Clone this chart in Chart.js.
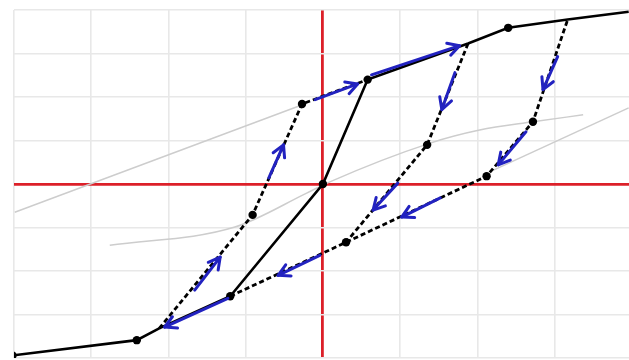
<!DOCTYPE html>
<html>
<head>
<meta charset="utf-8">
<script src="https://cdn.jsdelivr.net/npm/chart.js@4/dist/chart.umd.min.js"></script>
<style>
  html, body { margin: 0; padding: 0; background: #ffffff; overflow: hidden; }
  canvas { display: block; }
</style>
</head>
<body>
<canvas id="chart" width="629" height="360"></canvas>
<script>
// Grid positions (one unit per cell)
const xTicks = [-4, -3, -2, -1, 0, 1, 2, 3];
const yTicks = [-4, -3, -2, -1, 0, 1, 2, 3, 4];

// Skeleton (envelope) curve, solid
const skeletonX = [-4.02, -2.41, -2.12, -1.20, 0, 0.58, 1.88, 2.40, 3.17, 3.96];
const skeletonY = [-3.94, -3.59, -3.32, -2.58, 0, 2.40, 3.23, 3.59, 3.78, 3.96];

// Unloading / reloading branches, dashed
const branchAX = [-1.20, 0.30, 2.12, 2.72, 3.17];
const branchAY = [-2.58, -1.34, 0.18, 1.43, 3.78];
const branchBX = [1.88, 1.35, 0.30];
const branchBY = [3.23, 0.90, -1.34];
const branchCX = [-2.12, -0.91, -0.27, 0.58];
const branchCY = [-3.32, -0.71, 1.84, 2.40];

// Marked nodes
const nodeX = [-4.02, -2.41, -1.20, 0, 0.58, 2.40, 0.30, 2.12, 2.72, 1.35, -0.91, -0.27];
const nodeY = [-3.94, -3.59, -2.58, 0, 2.40, 3.59, -1.34, 0.18, 1.43, 0.90, -0.71, 1.84];

// Thin reference lines, light grey
const refAX = [-3.99, -0.30];
const refAY = [-0.65, 1.80];
const refBX = [-2.76, -1.14, -0.21, 0.09, 1.39, 2.03, 2.72, 3.37];
const refBY = [-1.41, -0.99, -0.21, 0.05, 0.94, 1.24, 1.43, 1.59];
const refCX = [2.16, 3.96];
const refCY = [0.28, 1.75];

// Direction arrows: tail (x1, y1) to head (x2, y2)
const arrowX1 = [-0.10, 0.63, 1.71, 3.04, 2.63, 0.97, 1.52, -0.04, -1.23, -1.66, -0.70];
const arrowY1 = [1.94, 2.51, 2.56, 2.93, 1.20, 0.02, -0.32, -1.64, -2.63, -2.44, 0.14];
const arrowX2 = [0.45, 1.77, 1.54, 2.85, 2.27, 0.65, 1.02, -0.58, -2.05, -1.33, -0.51];
const arrowY2 = [2.30, 3.18, 1.71, 2.17, 0.44, -0.60, -0.76, -2.10, -3.29, -1.68, 0.90];

const pts = (xs, ys) => xs.map((x, i) => ({ x: x, y: ys[i] }));

const BLUE = '#2222c0';
const RED = '#dc2029';
const GRID = '#e8e8e8';
const REF = '#cdcdcd';

const datasets = [];

// arrows on top
arrowX1.forEach((x1, i) => {
  datasets.push({
    data: [{ x: x1, y: arrowY1[i] }, { x: arrowX2[i], y: arrowY2[i] }],
    showLine: true, borderColor: BLUE, borderWidth: 3, pointRadius: 0,
    borderCapStyle: 'round', isArrow: true, order: 0, clip: false
  });
});

datasets.push({
  data: pts(nodeX, nodeY), showLine: false, pointRadius: 4.2, pointHoverRadius: 0,
  pointBackgroundColor: '#000', pointBorderWidth: 0, order: 1
});

datasets.push({
  data: pts(skeletonX, skeletonY), showLine: true, borderColor: '#000',
  borderWidth: 2.6, pointRadius: 0, order: 2
});
[[branchAX, branchAY], [branchBX, branchBY], [branchCX, branchCY]].forEach(([xs, ys]) => {
  datasets.push({
    data: pts(xs, ys), showLine: true, borderColor: '#000', borderWidth: 2.8,
    borderDash: [5, 3], pointRadius: 0, order: 2
  });
});

datasets.push({
  data: pts(refAX, refAY), showLine: true, borderColor: REF,
  borderWidth: 1.5, pointRadius: 0, order: 3
});
datasets.push({
  data: pts(refBX, refBY), showLine: true, borderColor: REF,
  borderWidth: 1.5, pointRadius: 0, order: 3, cubicInterpolationMode: 'monotone'
});
datasets.push({
  data: pts(refCX, refCY), showLine: true, borderColor: REF,
  borderWidth: 1.5, pointRadius: 0, order: 3
});

// Draws an open V head at the end of every arrow dataset
const arrowHeads = {
  id: 'arrowHeads',
  afterDatasetsDraw(chart) {
    const ctx = chart.ctx;
    chart.data.datasets.forEach((ds, i) => {
      if (!ds.isArrow) return;
      const meta = chart.getDatasetMeta(i);
      const a = meta.data[0], b = meta.data[1];
      const ang = Math.atan2(b.y - a.y, b.x - a.x);
      const len = 13, spread = 0.5;
      ctx.save();
      ctx.strokeStyle = ds.borderColor;
      ctx.lineWidth = ds.borderWidth;
      ctx.lineCap = 'round';
      ctx.lineJoin = 'round';
      ctx.beginPath();
      ctx.moveTo(b.x - len * Math.cos(ang - spread), b.y - len * Math.sin(ang - spread));
      ctx.lineTo(b.x, b.y);
      ctx.lineTo(b.x - len * Math.cos(ang + spread), b.y - len * Math.sin(ang + spread));
      ctx.stroke();
      ctx.restore();
    });
  }
};

const gridOpts = {
  color: (c) => (c.tick && c.tick.value === 0 ? RED : GRID),
  lineWidth: (c) => (c.tick && c.tick.value === 0 ? 2.8 : 1.6),
  drawTicks: false
};

new Chart(document.getElementById('chart'), {
  type: 'scatter',
  data: { datasets: datasets },
  options: {
    responsive: false,
    devicePixelRatio: 1,
    animation: false,
    layout: { autoPadding: false, padding: { left: 14, right: 0, top: 10, bottom: 2 } },
    plugins: { legend: { display: false }, tooltip: { enabled: false } },
    scales: {
      x: {
        type: 'linear', min: -4, max: 3.964,
        grid: gridOpts, border: { display: false },
        ticks: { display: false },
        afterBuildTicks: (s) => { s.ticks = xTicks.map((v) => ({ value: v })); }
      },
      y: {
        type: 'linear', min: -4, max: 4,
        grid: gridOpts, border: { display: false },
        ticks: { display: false },
        afterBuildTicks: (s) => { s.ticks = yTicks.map((v) => ({ value: v })); }
      }
    }
  },
  plugins: [arrowHeads]
});
</script>
</body>
</html>
